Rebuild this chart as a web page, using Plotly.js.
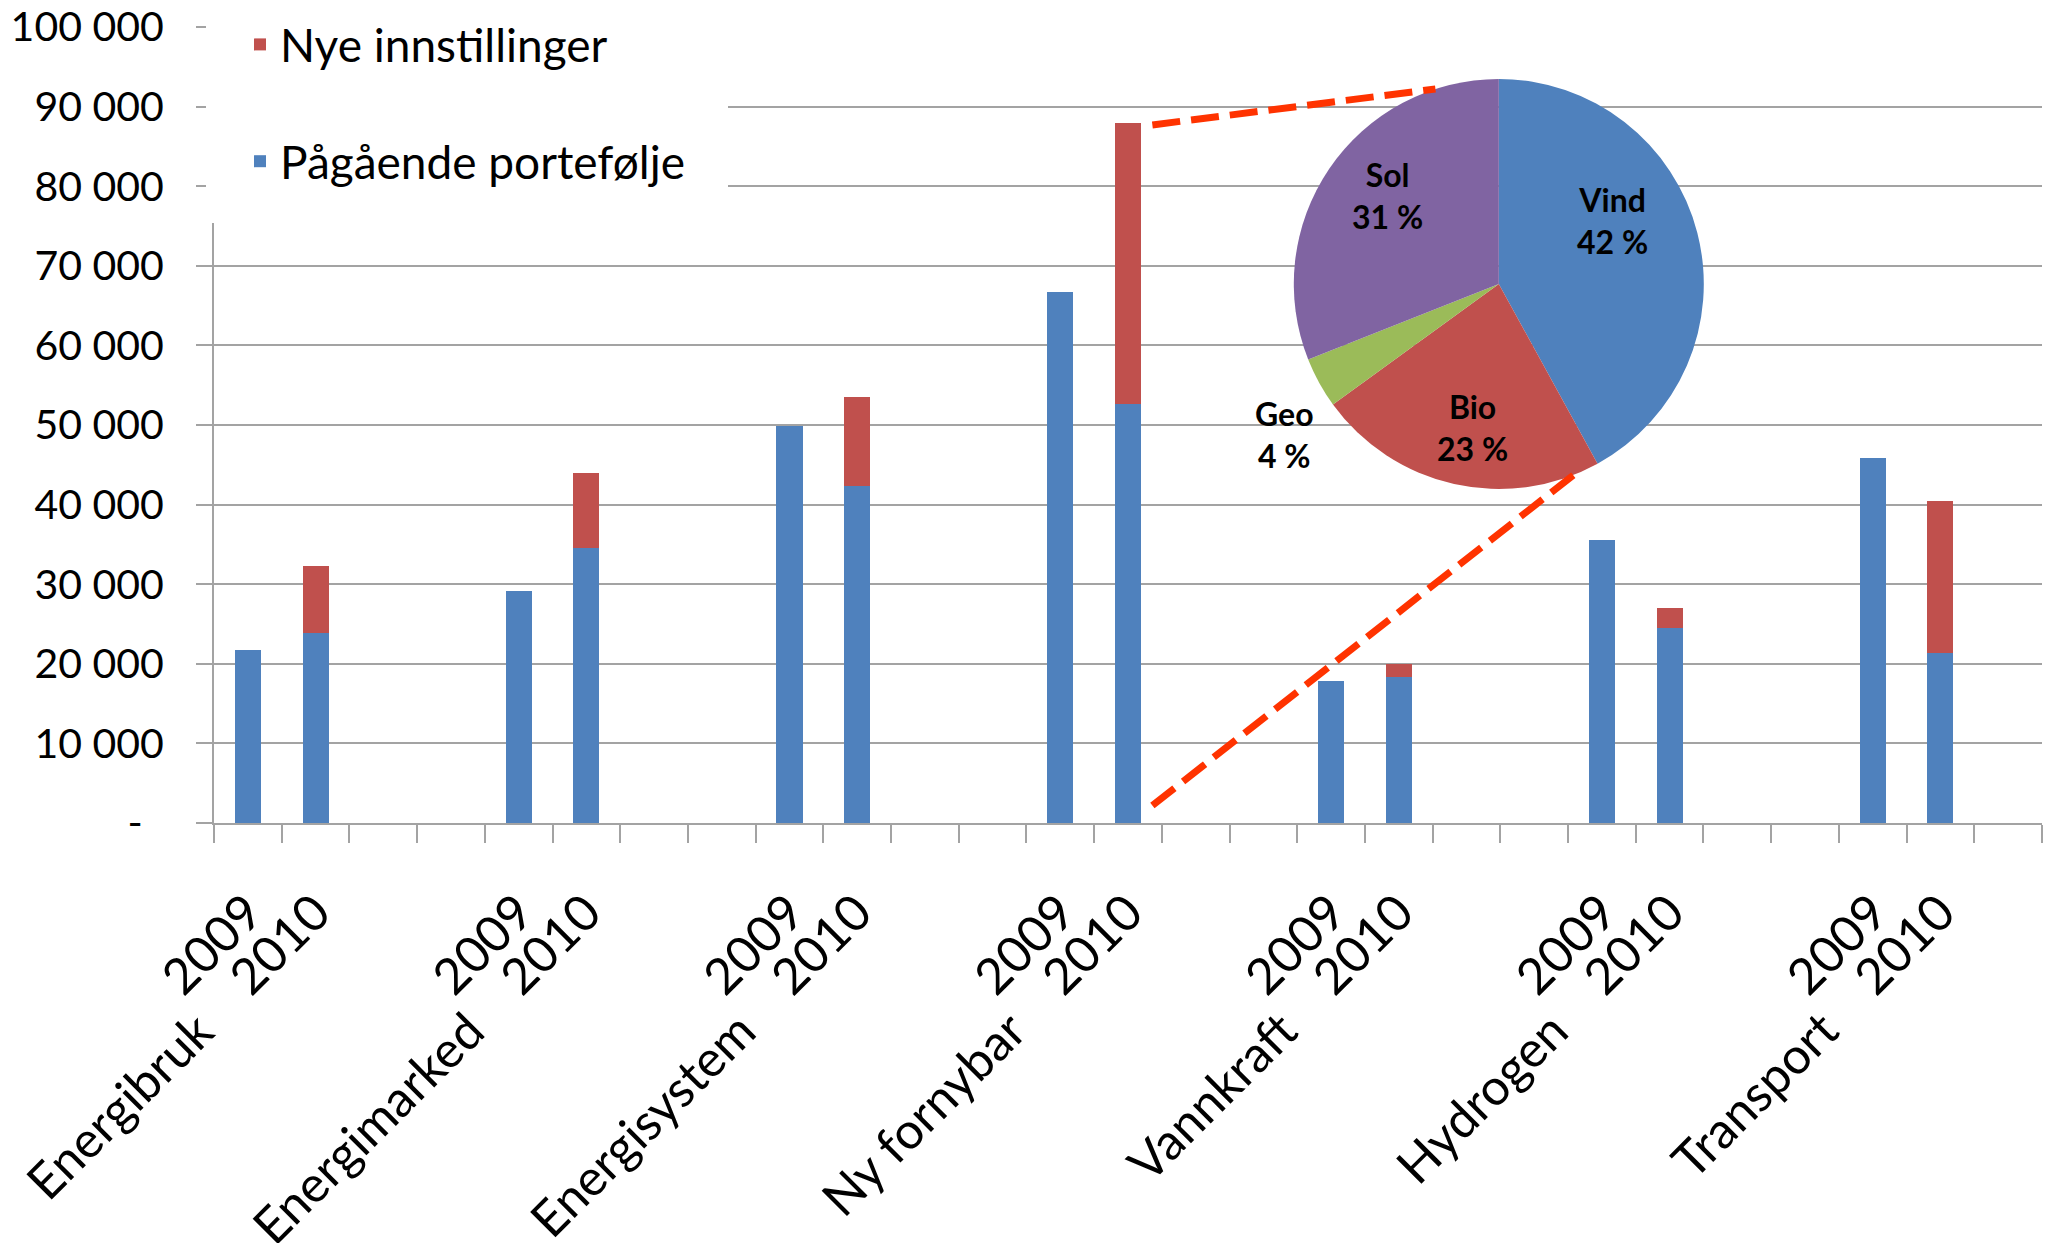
<!DOCTYPE html>
<html>
<head>
<meta charset="utf-8">
<script src="https://cdn.plot.ly/plotly-3.0.1.min.js"></script>
<style>
html, body { margin: 0; padding: 0; background: #ffffff; }
#chart { width: 2047px; height: 1243px; }
</style>
</head>
<body>
<div id="chart"></div>
<script>
// ---------------- data ----------------
const groups = ['Energibruk', 'Energimarked', 'Energisystem', 'Ny fornybar', 'Vannkraft', 'Hydrogen', 'Transport'];
const years = ['2009', '2010'];
const seriesNames = ['Pågående portefølje', 'Nye innstillinger'];
// order: group by group, 2009 then 2010
const pagaende = [21700, 23900, 29200, 34500, 49900, 42300, 66700, 52600, 17800, 18400, 35600, 24500, 45900, 21400];
const nye      = [0, 8400, 0, 9500, 0, 11200, 0, 35400, 0, 1600, 0, 2500, 0, 19000];
const yTickVals = [0, 10000, 20000, 30000, 40000, 50000, 60000, 70000, 80000, 90000, 100000];
const yTickText = ['-\u00a0\u00a0', '10 000', '20 000', '30 000', '40 000', '50 000', '60 000', '70 000', '80 000', '90 000', '100 000'];
const pieLabels = ['Vind', 'Bio', 'Geo', 'Sol'];
const pieValues = [42, 23, 4, 31];
const zoomedGroup = 'Ny fornybar';
const zoomedYear = '2010';

// ---------------- styling / layout constants ----------------
const FONT = 'Lato, "Open Sans", "Liberation Sans", sans-serif';
const BLUE = '#4F81BD', RED = '#C0504D', GREEN = '#9BBB59', PURPLE = '#8064A2';
const GRID = '#A3A3A3';
const SLOTS_PER_GROUP = 4;
const NSLOTS = (groups.length - 1) * SLOTS_PER_GROUP + years.length + 1; // 27
const W = 2047, H = 1243;
const M = { l: 214, r: 5, t: 27, b: 420 };
const plotW = W - M.l - M.r, plotH = H - M.t - M.b;
// pixel offsets of the pie labels from the pie centre (layout only)
const pieLabelOffsets = { Vind: [114, -64], Bio: [-26, 143], Geo: [-214, 150], Sol: [-111, -89] };

const xPos = [], xText = [];
groups.forEach((g, gi) => years.forEach((yr, yi) => { xPos.push(gi * SLOTS_PER_GROUP + yi); xText.push(yr); }));
const boundaries = [];
for (let i = 0; i <= NSLOTS; i++) boundaries.push(i - 0.5);

const traces = [
  { type: 'bar', name: seriesNames[0], x: xPos, y: pagaende, marker: { color: BLUE },
    legendgroup: 'g2', legendrank: 2, hovertemplate: '%{y}<extra>' + seriesNames[0] + '</extra>' },
  { type: 'bar', name: seriesNames[1], x: xPos, y: nye, marker: { color: RED },
    legendgroup: 'g1', legendrank: 1, hovertemplate: '%{y}<extra>' + seriesNames[1] + '</extra>' }
];

// pie placement (pixels -> paper)
const pieC = { x: 1498.8, y: 284 }, pieR = 205;
const pieDom = {
  x: [(pieC.x - pieR - M.l) / plotW, (pieC.x + pieR - M.l) / plotW],
  y: [(H - M.b - (pieC.y + pieR)) / plotH, (H - M.b - (pieC.y - pieR)) / plotH]
};
traces.push({
  type: 'pie', labels: pieLabels, values: pieValues, sort: false, direction: 'clockwise', rotation: 0,
  marker: { colors: [BLUE, RED, GREEN, PURPLE], line: { width: 0 } },
  domain: pieDom, showlegend: false, textinfo: 'none',
  hovertemplate: '%{label}: %{value} %<extra></extra>'
});
const pcx = (pieDom.x[0] + pieDom.x[1]) / 2, pcy = (pieDom.y[0] + pieDom.y[1]) / 2;

// group labels as rotated annotations
const annotations = groups.map((g, gi) => ({
  text: g, xref: 'x', yref: 'paper', x: gi * SLOTS_PER_GROUP - 0.3, y: -0.218,
  xanchor: 'right', yanchor: 'top', textangle: -45, showarrow: false,
  font: { family: FONT, size: 50, color: '#000000' }
}));
// pie slice labels
pieLabels.forEach((lab, i) => {
  const off = pieLabelOffsets[lab];
  annotations.push({
    text: '<b>' + lab + '</b><br><b>' + pieValues[i] + ' %</b>',
    xref: 'paper', yref: 'paper', x: pcx + off[0] / plotW, y: pcy - off[1] / plotH,
    xanchor: 'center', yanchor: 'middle', showarrow: false,
    font: { family: FONT, size: 32, color: '#000000' }
  });
});

// connector dashed lines from zoomed bar to pie
const zi = groups.indexOf(zoomedGroup) * SLOTS_PER_GROUP + years.indexOf(zoomedYear);
const zIdx = groups.indexOf(zoomedGroup) * years.length + years.indexOf(zoomedYear);
const zTotal = pagaende[zIdx] + nye[zIdx];
const toPaperX = xd => (xd + 0.5) / NSLOTS;
const piePt = deg => [pcx + Math.sin(deg * Math.PI / 180) * pieR / plotW, pcy + Math.cos(deg * Math.PI / 180) * pieR / plotH];
const upEnd = piePt(342), loEnd = piePt(158.5);
const dashLine = { color: '#FF3300', width: 7, dash: '28px,11px' };
const shapes = [
  // white box behind legend
  { type: 'rect', xref: 'paper', yref: 'paper', x0: (206 - M.l) / plotW, x1: (728 - M.l) / plotW,
    y0: (H - M.b - 223) / plotH, y1: (H - M.b) / plotH + 0.01, fillcolor: '#ffffff', line: { width: 0 }, layer: 'above' },
  { type: 'line', xref: 'paper', yref: 'paper', x0: toPaperX(zi + 0.36), y0: zTotal / 100000 - 0.003, x1: upEnd[0], y1: upEnd[1], line: dashLine, layer: 'above' },
  { type: 'line', xref: 'paper', yref: 'paper', x0: toPaperX(zi + 0.36), y0: 0.022, x1: loEnd[0], y1: loEnd[1], line: dashLine, layer: 'above' }
];

const layout = {
  width: W, height: H,
  margin: M,
  paper_bgcolor: '#ffffff', plot_bgcolor: '#ffffff',
  font: { family: FONT, size: 41, color: '#000000' },
  barmode: 'stack', bargap: 0.615,
  showlegend: true,
  legend: {
    x: (240 - M.l) / plotW, y: (H - M.b - 8) / plotH, xanchor: 'left', yanchor: 'top',
    bgcolor: 'rgba(0,0,0,0)', traceorder: 'grouped', tracegroupgap: 54,
    font: { family: FONT, size: 46, color: '#000000' }
  },
  xaxis: {
    range: [-0.5, NSLOTS - 0.5], tickmode: 'array', tickvals: xPos, ticktext: xText,
    tickangle: -45, ticks: '', ticklabelstandoff: 38,
    tickfont: { family: FONT, size: 50, color: '#000000' },
    showline: true, linecolor: GRID, linewidth: 2, showgrid: false, zeroline: false,
    minor: { tickmode: 'array', tickvals: boundaries, ticks: 'outside', ticklen: 18, tickwidth: 2, tickcolor: GRID, showgrid: false },
    fixedrange: true
  },
  yaxis: {
    range: [0, 100000], tickmode: 'array', tickvals: yTickVals, ticktext: yTickText,
    ticks: 'outside', ticklen: 16, tickwidth: 2, tickcolor: GRID, ticklabelstandoff: 24,
    tickfont: { family: FONT, size: 41, color: '#000000' },
    showline: true, linecolor: GRID, linewidth: 2,
    showgrid: true, gridcolor: GRID, gridwidth: 2, zeroline: false, fixedrange: true
  },
  shapes: shapes,
  annotations: annotations
};

Plotly.newPlot('chart', traces, layout, { displayModeBar: false });
</script>
</body>
</html>
